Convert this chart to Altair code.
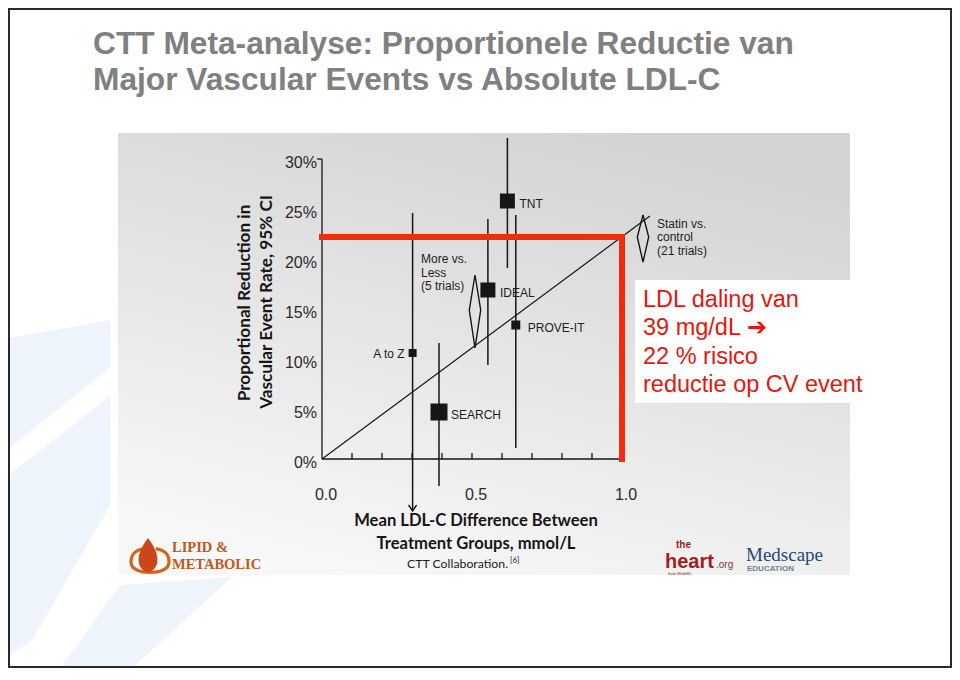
import altair as alt
import pandas as pd

# ---------------- data ----------------
trial_names = ["A to Z", "SEARCH", "IDEAL", "TNT", "PROVE-IT"]
trial_ldl_diff = [0.302, 0.390, 0.553, 0.618, 0.646]
trial_reduction = [0.106, 0.047, 0.169, 0.258, 0.134]
trial_ci_low = [-0.052, -0.027, 0.094, 0.191, 0.011]
trial_ci_high = [0.246, 0.116, 0.240, 0.321, 0.244]
trial_weight = [0.64, 2.89, 2.25, 2.25, 0.81]

pooled_names = ["More vs.\nLess\n(5 trials)", "Statin vs.\ncontrol\n(21 trials)"]
pooled_ldl_diff = [0.510, 1.070]
pooled_reduction = [0.149, 0.222]
pooled_ci_low = [0.111, 0.197]
pooled_ci_high = [0.184, 0.244]

fit_ldl = [0.0, 1.093]
fit_reduction = [0.0, 0.243]

marker_ldl = [0.0, 1.0, 1.0]
marker_reduction = [0.222, 0.222, 0.0]

y_tick_values = [0.0, 0.05, 0.10, 0.15, 0.20, 0.25, 0.30]
x_tick_values = [0.1, 0.2, 0.3, 0.4, 0.5, 0.6, 0.7, 0.8, 0.9, 1.0]
x_label_values = [0.0, 0.5, 1.0]
x_axis_range = [0.0, 1.0]
y_axis_range = [0.0, 0.30]

title_lines = ["CTT Meta-analyse: Proportionele Reductie van",
               "Major Vascular Events vs Absolute LDL-C"]
callout_text = "LDL daling van\n39 mg/dL \u2794\n22 % risico\nreductie op CV event"

# ---------------- tables ----------------
trials = pd.DataFrame({"name": trial_names, "x": trial_ldl_diff, "y": trial_reduction,
                       "lo": trial_ci_low, "hi": trial_ci_high, "w": trial_weight})
pooled = pd.DataFrame({"name": pooled_names, "x": pooled_ldl_diff, "y": pooled_reduction,
                       "lo": pooled_ci_low, "hi": pooled_ci_high})
HALF_W = 0.019
rows = []
for _, r in pooled.iterrows():
    pts = [(r.x, r.hi), (r.x + HALF_W, r.y), (r.x, r.lo), (r.x - HALF_W, r.y), (r.x, r.hi)]
    for k, (px, py) in enumerate(pts):
        rows.append({"name": r["name"], "ord": k, "x": px, "y": py})
diamonds = pd.DataFrame(rows)
fit = pd.DataFrame({"x": fit_ldl, "y": fit_reduction})
marker = pd.DataFrame({"x": marker_ldl, "y": marker_reduction, "ord": [0, 1, 2]})
yticks = pd.DataFrame({"y": y_tick_values})
xticks = pd.DataFrame({"x": x_tick_values})
xlabels = pd.DataFrame({"x": x_label_values})
y_axis_df = pd.DataFrame({"x": [x_axis_range[0]], "lo": [y_axis_range[0]], "hi": [y_axis_range[1]]})
x_axis_df = pd.DataFrame({"y": [y_axis_range[0]], "x0": [x_axis_range[0]], "x1": [x_axis_range[1]]})
y_top_df = pd.DataFrame({"y": [y_axis_range[1]]})
one = pd.DataFrame({"a": [0]})

XS = alt.Scale(domain=[0, 1.0], nice=False, zero=False)
YS = alt.Scale(domain=[0, 0.30], nice=False, zero=False)


def X(f="x"):
    return alt.X(f"{f}:Q", scale=XS, axis=None)


def Y(f="y"):
    return alt.Y(f"{f}:Q", scale=YS, axis=None)


BLACK = "#161616"
RED_LINE = "#f42a0c"
RED_TEXT = "#e5160d"
ARIAL = "Liberation Sans"
CAL = "Lato"

# ---------------- backdrop ----------------
# faint decorative stripes of the slide template (path in page pixels, scale 1)
stripes = alt.Chart(one).mark_point(
    shape=("M0,340 L110,320 L110,368 L0,455 Z "
           "M0,482 L110,396 L110,505 L32,640 L0,662 Z "
           "M58,672 L120,585 L232,577 L128,672 Z"),
    filled=True, fill="#edf4fb", strokeWidth=0, size=4, opacity=1).encode(
    x=alt.value(-322), y=alt.value(-159))

panel = alt.Chart(one).mark_rect(
    fill=alt.LinearGradient(
        gradient="linear",
        stops=[alt.GradientStop(color="#f8f8f8", offset=0),
               alt.GradientStop(color="#d3d3d3", offset=1)],
        x1=0.3, y1=1, x2=0.7, y2=0),
).encode(x=alt.value(-204), x2=alt.value(528), y=alt.value(-26), y2=alt.value(416))

white_box = alt.Chart(one).mark_rect(fill="white").encode(
    x=alt.value(313), x2=alt.value(630), y=alt.value(121), y2=alt.value(244))

frame = alt.Chart(one).mark_rect(fill="white", fillOpacity=0, stroke="#2a2a2a", strokeWidth=2).encode(
    x=alt.value(-313), x2=alt.value(629), y=alt.value(-150), y2=alt.value(508))

# ---------------- titles ----------------
title1 = alt.Chart(one).mark_text(
    text=title_lines[0], font=ARIAL, fontWeight="bold", fontSize=31.7, color="#808080",
    align="left", baseline="alphabetic").encode(x=alt.value(-229), y=alt.value(-105))
title2 = alt.Chart(one).mark_text(
    text=title_lines[1], font=ARIAL, fontWeight="bold", fontSize=31.7, color="#808080",
    align="left", baseline="alphabetic").encode(x=alt.value(-229), y=alt.value(-69))

# ---------------- axes ----------------
y_axis_line = alt.Chart(y_axis_df).mark_rule(color=BLACK, strokeWidth=1.3).encode(
    x=X(), y=Y("lo"), y2="hi:Q")
y_top_tick = alt.Chart(y_top_df).mark_rule(color=BLACK, strokeWidth=1.3).encode(
    x=alt.value(-5), x2=alt.value(0), y=Y())
x_axis_line = alt.Chart(x_axis_df).mark_rule(color=BLACK, strokeWidth=1.3).encode(
    y=Y(), x=X("x0"), x2="x1:Q")
x_tick_marks = alt.Chart(xticks).mark_rule(color=BLACK, strokeWidth=1.3).encode(
    x=X(), y=alt.value(300), y2=alt.value(294))
y_tick_labels = alt.Chart(yticks).mark_text(
    font=ARIAL, fontSize=16, color="#2a2a2a", align="right", baseline="middle", dx=-5, dy=4
).encode(x=alt.value(0), y=Y(), text=alt.Text("y:Q", format=".0%"))
x_tick_labels = alt.Chart(xlabels).mark_text(
    font=ARIAL, fontSize=16, color="#2a2a2a", align="center", baseline="middle", dx=4
).encode(x=X(), y=alt.value(336), text=alt.Text("x:Q", format=".1f"))

y_title1 = alt.Chart(one).mark_text(
    text="Proportional Reduction in", font=CAL, fontWeight="bold", fontSize=17.2,
    color=BLACK, angle=270, align="center", baseline="middle").encode(
    x=alt.value(-77), y=alt.value(144))
y_title2 = alt.Chart(one).mark_text(
    text="Vascular Event Rate, 95% CI", font=CAL, fontWeight="bold", fontSize=17.2,
    color=BLACK, angle=270, align="center", baseline="middle").encode(
    x=alt.value(-55), y=alt.value(143))
x_title1 = alt.Chart(one).mark_text(
    text="Mean LDL-C Difference Between", font=CAL, fontWeight="bold", fontSize=16.6,
    color=BLACK, align="center", baseline="middle").encode(x=alt.value(154), y=alt.value(362))
x_title2 = alt.Chart(one).mark_text(
    text="Treatment Groups, mmol/L", font=CAL, fontWeight="bold", fontSize=16.6,
    color=BLACK, align="center", baseline="middle").encode(x=alt.value(154), y=alt.value(385))
source = alt.Chart(one).mark_text(
    text="CTT Collaboration.", font=CAL, fontSize=12.3, color="#222222",
    align="left", baseline="alphabetic").encode(x=alt.value(85), y=alt.value(409))
source_ref = alt.Chart(one).mark_text(
    text="[6]", font=CAL, fontSize=8, color="#222222",
    align="left", baseline="alphabetic").encode(x=alt.value(188), y=alt.value(404))

# ---------------- data marks ----------------
ci = alt.Chart(trials).mark_rule(color=BLACK, strokeWidth=1.5).encode(
    x=X(), y=Y("lo"), y2="hi:Q")
arrow = alt.Chart(trials[trials["name"] == "A to Z"]).mark_point(
    shape="M-1,-1.5L0,0L1,-1.5", filled=False, stroke=BLACK, strokeWidth=1.4,
    size=64, opacity=1).encode(x=X(), y=Y("lo"))
squares = alt.Chart(trials).mark_square(color=BLACK, opacity=1).encode(
    x=X(), y=Y(),
    size=alt.Size("w:Q", scale=alt.Scale(domain=[0, 3], range=[0, 300]), legend=None))
labels_right = alt.Chart(trials[trials["name"] != "A to Z"]).mark_text(
    font=ARIAL, fontSize=12, color="#1e1e1e", align="left", baseline="middle", dx=12, dy=3
).encode(x=X(), y=Y(), text="name:N")
labels_left = alt.Chart(trials[trials["name"] == "A to Z"]).mark_text(
    font=ARIAL, fontSize=12, color="#1e1e1e", align="right", baseline="middle", dx=-8, dy=1
).encode(x=X(), y=Y(), text="name:N")

diamond_lines = alt.Chart(diamonds).mark_line(color=BLACK, strokeWidth=1.4).encode(
    x=X(), y=Y(), detail="name:N", order="ord:Q")
pooled_label_a = alt.Chart(pooled.iloc[[0]]).mark_text(
    font=ARIAL, fontSize=12, color="#1e1e1e", align="left", baseline="top",
    lineBreak="\n", lineHeight=13.7, dx=-54, dy=-56).encode(x=X(), y=Y(), text="name:N")
pooled_label_b = alt.Chart(pooled.iloc[[1]]).mark_text(
    font=ARIAL, fontSize=12, color="#1e1e1e", align="left", baseline="top",
    lineBreak="\n", lineHeight=13.3, dx=14, dy=-18).encode(x=X(), y=Y(), text="name:N")

fit_line = alt.Chart(fit).mark_line(color=BLACK, strokeWidth=1.2).encode(x=X(), y=Y())
red_marker = alt.Chart(marker).mark_line(
    color=RED_LINE, strokeWidth=6, strokeJoin="miter", strokeCap="square").encode(
    x=X(), y=Y(), order="ord:Q")

callout = alt.Chart(one).mark_text(
    text=callout_text, font=ARIAL, fontSize=23.5, color=RED_TEXT, align="left",
    baseline="top", lineBreak="\n", lineHeight=28.4).encode(x=alt.value(321), y=alt.value(129))

# ---------------- logos (text approximations) ----------------
ring = alt.Chart(one).mark_point(
    shape="M-0.3,-0.6 C-0.9,-0.5 -1,-0.2 -1,0.1 C-1,0.5 -0.5,0.65 0,0.65 C0.5,0.65 1,0.5 1,0.1 C1,-0.2 0.9,-0.5 0.3,-0.6",
    filled=False, stroke="#d2641f", strokeWidth=3.2, size=1444, opacity=1).encode(
    x=alt.value(-172), y=alt.value(401))
flame = alt.Chart(one).mark_point(
    shape="M0,-1 C0.35,-0.5 0.6,-0.1 0.55,0.4 C0.5,0.8 0.2,1 0,1 C-0.2,1 -0.5,0.8 -0.55,0.4 C-0.6,-0.1 -0.35,-0.5 0,-1 Z",
    filled=True, fill="#c9471a", strokeWidth=0, size=1156, opacity=1).encode(
    x=alt.value(-174), y=alt.value(396))
lipid1 = alt.Chart(one).mark_text(
    text="LIPID &", font="Liberation Serif", fontWeight="bold", fontSize=14.5,
    color="#c4561c", align="left", baseline="alphabetic").encode(x=alt.value(-150), y=alt.value(393))
lipid2 = alt.Chart(one).mark_text(
    text="METABOLIC", font="Liberation Serif", fontWeight="bold", fontSize=14.5,
    color="#c4561c", align="left", baseline="alphabetic").encode(x=alt.value(-150), y=alt.value(410))

heart_the = alt.Chart(one).mark_text(
    text="the", font=ARIAL, fontWeight="bold", fontSize=10, color="#9c1c1c",
    align="left", baseline="alphabetic").encode(x=alt.value(354), y=alt.value(389))
heart_main = alt.Chart(one).mark_text(
    text="heart", font=ARIAL, fontWeight="bold", fontSize=20, color="#a41e1e",
    align="left", baseline="alphabetic").encode(x=alt.value(343), y=alt.value(409))
heart_org = alt.Chart(one).mark_text(
    text=".org", font=ARIAL, fontSize=10, color="#8a3030",
    align="left", baseline="alphabetic").encode(x=alt.value(394), y=alt.value(409))
heart_from = alt.Chart(one).mark_text(
    text="from WebMD", font=ARIAL, fontSize=4, color="#8a3030",
    align="left", baseline="alphabetic").encode(x=alt.value(346), y=alt.value(416))
medscape = alt.Chart(one).mark_text(
    text="Medscape", font="Liberation Serif", fontSize=19, color="#24477a",
    align="left", baseline="alphabetic").encode(x=alt.value(424), y=alt.value(402))
education = alt.Chart(one).mark_text(
    text="EDUCATION", font=ARIAL, fontWeight="bold", fontSize=8, color="#6e7f90",
    align="left", baseline="alphabetic").encode(x=alt.value(425), y=alt.value(412))

chart = alt.layer(
    stripes, panel, white_box, frame, title1, title2,
    fit_line, ci, arrow, diamond_lines, squares,
    y_axis_line, y_top_tick, x_axis_line, x_tick_marks,
    red_marker,
    y_tick_labels, x_tick_labels, y_title1, y_title2, x_title1, x_title2,
    source, source_ref, labels_right, labels_left, pooled_label_a, pooled_label_b,
    callout, ring, flame, lipid1, lipid2,
    heart_the, heart_main, heart_org, heart_from, medscape, education,
).properties(
    width=300, height=300,
    padding={"left": 314, "top": 151, "right": 330, "bottom": 209},
    autosize=alt.AutoSizeParams(type="none"),
    background="white",
).configure_view(stroke=None)

chart.save("out.html", embed_options={"renderer": "svg", "actions": False})
